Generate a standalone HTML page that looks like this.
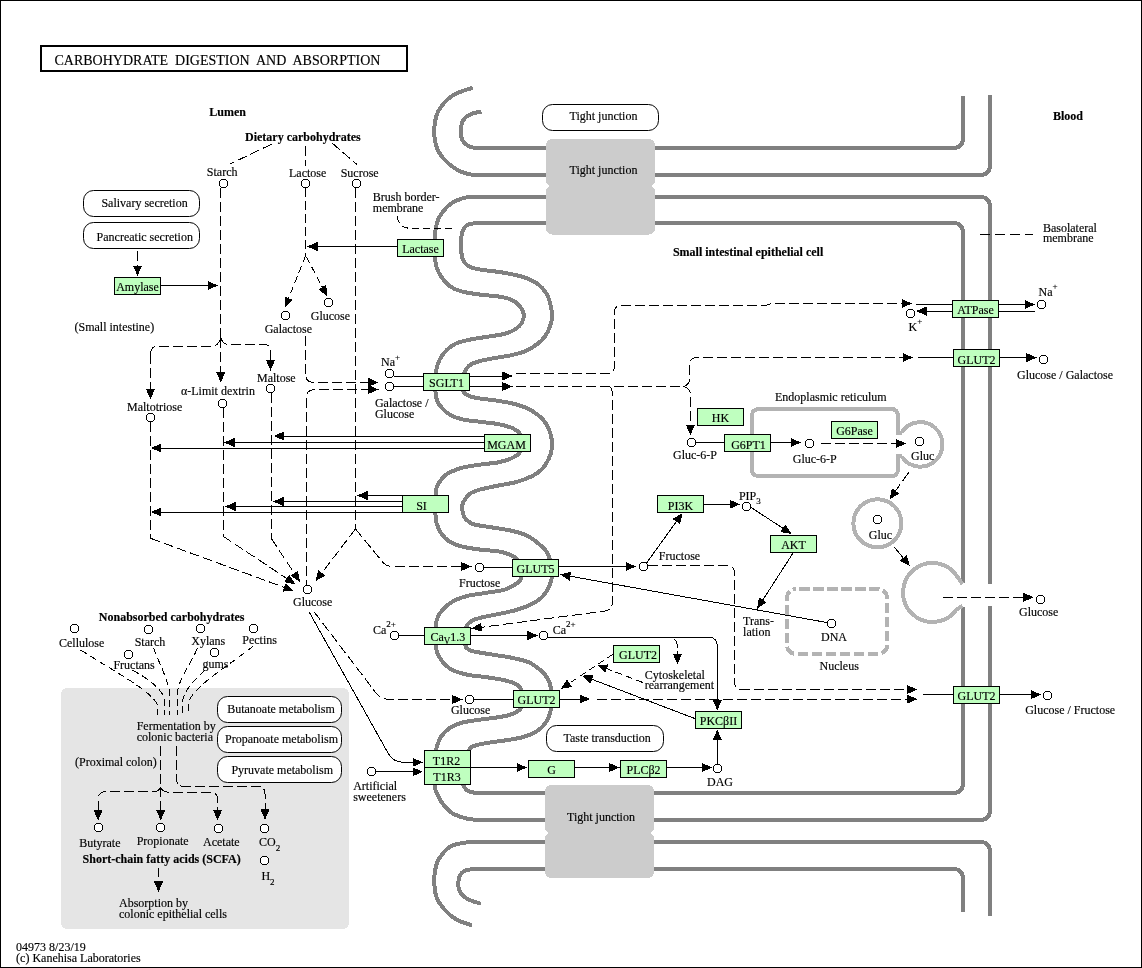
<!DOCTYPE html>
<html><head><meta charset="utf-8"><title>Carbohydrate digestion and absorption</title>
<style>html,body{margin:0;padding:0;background:#fff;}svg{display:block;will-change:transform;}text{fill:#000;stroke:#000;stroke-width:0.15px;}</style>
</head><body>
<svg width="1142" height="968" viewBox="0 0 1142 968" shape-rendering="crispEdges" font-family='"Liberation Serif", serif'>
<rect x="0.5" y="0.5" width="1141" height="967" fill="#fff" stroke="#000" stroke-width="1"/>
<rect x="61" y="688" width="288" height="241" rx="6" fill="#e5e5e5"/>
<rect x="41" y="46" width="366" height="25" fill="none" stroke="#000" stroke-width="2"/>
<path d="M472.7,88 C471.63,88.28 468.73,88.9 466.3,89.7 C463.87,90.5 460.85,91.5 458.1,92.8 C455.35,94.1 452.38,95.52 449.8,97.5 C447.22,99.48 444.58,102.28 442.6,104.7 C440.62,107.12 439.12,109.42 437.9,112 C436.68,114.58 435.9,117.28 435.3,120.2 C434.7,123.12 434.38,126.22 434.3,129.5 C434.22,132.78 434.28,136.63 434.8,139.9 C435.32,143.17 436.1,146.18 437.4,149.1 C438.7,152.02 440.53,154.82 442.6,157.4 C444.67,159.98 447.22,162.45 449.8,164.6 C452.38,166.75 455.35,168.83 458.1,170.3 C460.85,171.77 463.65,172.62 466.3,173.4 C468.95,174.18 471.72,174.73 474,175 C476.28,175.27 479,175 480,175 L980,175 Q990,175 990,165 L990,95" fill="none" stroke="#808080" stroke-width="4"/>
<path d="M481.5,112 C480.7,112.07 478.37,112.07 476.7,112.4 C475.03,112.73 473.23,113.27 471.5,114 C469.77,114.73 467.68,115.73 466.3,116.8 C464.92,117.87 464.03,118.93 463.2,120.4 C462.37,121.87 461.67,123.42 461.3,125.6 C460.93,127.78 460.85,131.15 461,133.5 C461.15,135.85 461.48,137.98 462.2,139.7 C462.92,141.42 464.1,142.67 465.3,143.8 C466.5,144.93 467.85,145.83 469.4,146.5 C470.95,147.17 472.83,147.55 474.6,147.8 C476.37,148.05 479.1,147.97 480,148 L953,148 Q963,148 963,138 L963,96" fill="none" stroke="#808080" stroke-width="4"/>
<path d="M486,197 C484.42,196.97 479.92,196.7 476.5,196.8 C473.08,196.9 468.98,196.9 465.5,197.6 C462.02,198.3 458.47,199.63 455.6,201 C452.73,202.37 450.73,203.57 448.3,205.8 C445.87,208.03 442.83,211.73 441,214.4 C439.17,217.07 438.25,218.93 437.3,221.8 C436.35,224.67 435.68,227.73 435.3,231.6 C434.92,235.47 435.05,240.93 435,245 C434.95,249.07 434.87,252.83 435,256 C435.13,259.17 435.3,261.5 435.8,264 C436.3,266.5 437.05,268.83 438,271 C438.95,273.17 439.58,274.5 441.5,277 C443.42,279.5 446.12,283.58 449.5,286 C452.88,288.42 456.68,290.07 461.8,291.5 C466.92,292.93 474.07,293.77 480.2,294.6 C486.33,295.43 493.5,295.68 498.6,296.5 C503.7,297.32 507.33,297.98 510.8,299.5 C514.27,301.02 517.25,303.15 519.4,305.6 C521.55,308.05 523.3,311.33 523.7,314.2 C524.1,317.07 523.13,320.33 521.8,322.8 C520.47,325.27 518.55,327.17 515.7,329 C512.85,330.83 509.6,332.48 504.7,333.8 C499.8,335.12 492.43,335.87 486.3,336.9 C480.17,337.93 473.02,338.87 467.9,340 C462.78,341.13 459.08,342.07 455.6,343.7 C452.12,345.33 449.43,347.57 447,349.8 C444.57,352.03 442.62,354.45 441,357.1 C439.38,359.75 438.13,363.05 437.3,365.7 C436.47,368.35 436.3,370.28 436,373 C435.7,375.72 435.6,378.98 435.5,382 C435.4,385.02 435.1,387.93 435.4,391.1 C435.7,394.27 436.17,398.13 437.3,401 C438.43,403.87 440.17,406.07 442.2,408.3 C444.23,410.53 446.23,412.57 449.5,414.4 C452.77,416.23 456.68,418.07 461.8,419.3 C466.92,420.53 474.07,420.98 480.2,421.8 C486.33,422.62 493.08,423.08 498.6,424.2 C504.12,425.32 509.63,426.78 513.3,428.5 C516.97,430.22 519.07,432.08 520.6,434.5 C522.13,436.92 522.7,439.92 522.5,443 C522.3,446.08 521.35,450.4 519.4,453 C517.45,455.6 514.27,457.05 510.8,458.6 C507.33,460.15 502.73,461.42 498.6,462.3 C494.47,463.18 490.1,463.37 486,463.9 C481.9,464.43 477.83,464.9 474,465.5 C470.17,466.1 466.27,466.68 463,467.5 C459.73,468.32 456.93,469.4 454.4,470.4 C451.87,471.4 449.63,472.37 447.8,473.5 C445.97,474.63 444.73,475.87 443.4,477.2 C442.07,478.53 440.82,480.07 439.8,481.5 C438.78,482.93 437.95,484.22 437.3,485.8 C436.65,487.38 436.22,489.13 435.9,491 C435.58,492.87 435.48,495 435.4,497 C435.32,499 435.4,500.27 435.4,503 C435.4,505.73 435.2,510.03 435.4,513.4 C435.6,516.77 435.67,519.93 436.6,523.2 C437.53,526.47 438.85,529.93 441,533 C443.15,536.07 446.03,539.35 449.5,541.6 C452.97,543.85 456.68,545.17 461.8,546.5 C466.92,547.83 474.07,548.78 480.2,549.6 C486.33,550.42 493.5,550.48 498.6,551.4 C503.7,552.32 507.53,553.67 510.8,555.1 C514.07,556.53 516.42,557.85 518.2,560 C519.98,562.15 521,564.93 521.5,568 C522,571.07 521.95,575.85 521.2,578.4 C520.45,580.95 519.75,581.43 517,583.3 C514.25,585.17 509.82,588.02 504.7,589.6 C499.58,591.18 492.43,591.77 486.3,592.8 C480.17,593.83 473.02,594.6 467.9,595.8 C462.78,597 459.07,598.38 455.6,600 C452.13,601.62 449.75,603.25 447.1,605.5 C444.45,607.75 441.45,610.95 439.7,613.5 C437.95,616.05 437.25,618.38 436.6,620.8 C435.95,623.22 435.93,625.47 435.8,628 C435.67,630.53 435.8,633.1 435.8,636 C435.8,638.9 435.55,642.62 435.8,645.4 C436.05,648.18 436.23,650.05 437.3,652.7 C438.37,655.35 439.75,658.43 442.2,661.3 C444.65,664.17 447.72,667.65 452,669.9 C456.28,672.15 462.18,673.58 467.9,674.8 C473.62,676.02 480.17,676.28 486.3,677.2 C492.43,678.12 499.58,679.07 504.7,680.3 C509.82,681.53 514.12,682.82 517,684.6 C519.88,686.38 521.08,688.6 522,691 C522.92,693.4 522.73,696.07 522.5,699 C522.27,701.93 522.55,706.02 520.6,708.6 C518.65,711.18 514.47,713.07 510.8,714.5 C507.13,715.93 503.7,716.35 498.6,717.2 C493.5,718.05 486.33,718.68 480.2,719.6 C474.07,720.52 466.92,721.27 461.8,722.7 C456.68,724.13 452.98,725.85 449.5,728.2 C446.02,730.55 442.93,733.93 440.9,736.8 C438.87,739.67 438.15,742.87 437.3,745.4 C436.45,747.93 436.13,749.9 435.8,752 C435.47,754.1 435.43,755.33 435.3,758 C435.17,760.67 435.12,764.67 435,768 C434.88,771.33 434.67,775 434.6,778 C434.53,781 434.18,783.33 434.6,786 C435.02,788.67 435.78,791.08 437.1,794 C438.42,796.92 440.03,800.35 442.5,803.5 C444.97,806.65 448.1,810.45 451.9,812.9 C455.7,815.35 460.83,817.02 465.3,818.2 C469.77,819.38 475.25,819.7 478.7,820 C482.15,820.3 484.78,820 486,820 L980,820 Q990,820 990,810 L990,606" fill="none" stroke="#808080" stroke-width="4"/>
<path d="M990,584 L990,207 Q990,197 980,197 L486,197" fill="none" stroke="#808080" stroke-width="4"/>
<path d="M478,223 C476.5,223.2 471.3,223.37 469,224.2 C466.7,225.03 465.4,226.37 464.2,228 C463,229.63 462.3,230.95 461.8,234 C461.3,237.05 461.2,242.63 461.2,246.3 C461.2,249.97 461.3,253.35 461.8,256 C462.3,258.65 462.77,260.35 464.2,262.2 C465.63,264.05 467.73,265.87 470.4,267.1 C473.07,268.33 475.5,268.8 480.2,269.6 C484.9,270.4 493.5,271.17 498.6,271.9 C503.7,272.63 506.32,273.02 510.8,274 C515.28,274.98 521,276.13 525.5,277.8 C530,279.47 534.32,281.4 537.8,284 C541.28,286.6 544.25,289.8 546.4,293.4 C548.55,297 549.78,301.52 550.7,305.6 C551.62,309.68 552.02,314.42 551.9,317.9 C551.78,321.38 551.13,323.43 550,326.5 C548.87,329.57 547.13,333.43 545.1,336.3 C543.07,339.17 541.07,341.25 537.8,343.7 C534.53,346.15 530,349.07 525.5,351 C521,352.93 516.32,354.07 510.8,355.3 C505.28,356.53 498.12,357.28 492.4,358.4 C486.68,359.52 480.38,360.78 476.5,362 C472.62,363.22 471.08,364.05 469.1,365.7 C467.12,367.35 465.58,369.35 464.6,371.9 C463.62,374.45 463.47,377.8 463.2,381 C462.93,384.2 462.02,388.6 463,391.1 C463.98,393.6 466.23,394.77 469.1,396 C471.97,397.23 475.28,397.68 480.2,398.5 C485.12,399.32 492.47,399.88 498.6,400.9 C504.73,401.92 511.48,402.97 517,404.6 C522.52,406.23 527.42,408.25 531.7,410.7 C535.98,413.15 539.85,416.23 542.7,419.3 C545.55,422.37 547.27,425.62 548.8,429.1 C550.33,432.58 551.38,436.93 551.9,440.2 C552.42,443.47 552.42,445.63 551.9,448.7 C551.38,451.77 550.33,455.32 548.8,458.6 C547.27,461.88 545.35,465.55 542.7,468.4 C540.05,471.25 537.18,473.45 532.9,475.7 C528.62,477.95 522.72,480.27 517,481.9 C511.28,483.53 504.73,484.23 498.6,485.5 C492.47,486.77 484.8,488.25 480.2,489.5 C475.6,490.75 473.37,491.58 471,493 C468.63,494.42 467.47,496 466,498 C464.53,500 462.78,502.83 462.2,505 C461.62,507.17 462.2,509.08 462.5,511 C462.8,512.92 463.17,514.88 464,516.5 C464.83,518.12 465.83,519.38 467.5,520.7 C469.17,522.02 469.85,523.27 474,524.4 C478.15,525.53 486.27,526.47 492.4,527.5 C498.53,528.53 505.07,529.27 510.8,530.6 C516.53,531.93 522.1,533.27 526.8,535.5 C531.5,537.73 535.73,541.35 539,544 C542.27,546.65 544.58,548.82 546.4,551.4 C548.22,553.98 549.05,556.73 549.9,559.5 C550.75,562.27 551.15,565.07 551.5,568 C551.85,570.93 552.45,573.93 552,577.1 C551.55,580.27 550.35,583.77 548.8,587 C547.25,590.23 545.35,593.75 542.7,596.5 C540.05,599.25 537.18,601.28 532.9,603.5 C528.62,605.72 522.72,608.05 517,609.8 C511.28,611.55 504.73,612.67 498.6,614 C492.47,615.33 484.7,616.63 480.2,617.8 C475.7,618.97 473.8,619.72 471.6,621 C469.4,622.28 468.02,623.83 467,625.5 C465.98,627.17 465.75,627.68 465.5,631 C465.25,634.32 465.1,642.4 465.5,645.4 C465.9,648.4 466.48,647.98 467.9,649 C469.32,650.02 469.92,650.57 474,651.5 C478.08,652.43 486.27,653.58 492.4,654.6 C498.53,655.62 504.67,656.28 510.8,657.6 C516.93,658.92 524.08,660.25 529.2,662.5 C534.32,664.75 538.43,668.43 541.5,671.1 C544.57,673.77 546.07,675.85 547.6,678.5 C549.13,681.15 550.08,683.75 550.7,687 C551.32,690.25 551.25,694.33 551.3,698 C551.35,701.67 551.47,705.75 551,709 C550.53,712.25 549.75,714.75 548.5,717.5 C547.25,720.25 545.67,723.08 543.5,725.5 C541.33,727.92 538.75,730.12 535.5,732 C532.25,733.88 528.12,735.53 524,736.8 C519.88,738.07 515.03,738.85 510.8,739.6 C506.57,740.35 502.82,740.7 498.6,741.3 C494.38,741.9 489.27,742.53 485.5,743.2 C481.73,743.87 478.58,744.42 476,745.3 C473.42,746.18 471.58,746.38 470,748.5 C468.42,750.62 467.42,754.75 466.5,758 C465.58,761.25 465,764.67 464.5,768 C464,771.33 463.7,775.12 463.5,778 C463.3,780.88 462.77,783.3 463.3,785.3 C463.83,787.3 465.47,788.88 466.7,790 C467.93,791.12 468.7,791.5 470.7,792 C472.7,792.5 476.15,792.83 478.7,793 C481.25,793.17 484.78,793 486,793 L953,793 Q963,793 963,783 L963,607" fill="none" stroke="#808080" stroke-width="4"/>
<path d="M963,583 L963,233 Q963,223 953,223 L478,223" fill="none" stroke="#808080" stroke-width="4"/>
<path d="M990,916 L990,852 Q990,842 980,842 L480,842" fill="none" stroke="#808080" stroke-width="4"/>
<path d="M480,842 C479.45,842 478.98,841.92 476.7,842 C474.42,842.08 469.75,842.1 466.3,842.5 C462.85,842.9 458.92,843.57 456,844.4 C453.08,845.23 451.03,845.95 448.8,847.5 C446.57,849.05 444.5,851.3 442.6,853.7 C440.7,856.1 438.7,858.8 437.4,861.9 C436.1,865 435.32,869.02 434.8,872.3 C434.28,875.58 434.22,878.17 434.3,881.6 C434.38,885.03 434.62,889.63 435.3,892.9 C435.98,896.17 437.02,898.62 438.4,901.2 C439.78,903.78 441.53,906 443.6,908.4 C445.67,910.8 448.22,913.53 450.8,915.6 C453.38,917.67 456.52,919.5 459.1,920.8 C461.68,922.1 464.15,922.62 466.3,923.4 C468.45,924.18 471.05,925.15 472,925.5" fill="none" stroke="#808080" stroke-width="4"/>
<path d="M963,912 L963,879 Q963,869 953,869 L480,869" fill="none" stroke="#808080" stroke-width="4"/>
<path d="M480,869 C479.45,869 478.63,868.88 476.7,869 C474.77,869.12 470.47,869.33 468.4,869.7 C466.33,870.07 465.6,870.43 464.3,871.2 C463,871.97 461.55,872.92 460.6,874.3 C459.65,875.68 458.93,877.25 458.6,879.5 C458.27,881.75 458.27,885.57 458.6,887.8 C458.93,890.03 459.65,891.37 460.6,892.9 C461.55,894.43 462.48,895.7 464.3,897 C466.12,898.3 468.72,899.57 471.5,900.7 C474.28,901.83 479.42,903.28 481,903.8" fill="none" stroke="#808080" stroke-width="4"/>
<rect x="546" y="139" width="109" height="47.5" rx="6" fill="#cccccc"/>
<rect x="546" y="185.5" width="109" height="49" rx="6" fill="#cccccc"/>
<rect x="545" y="785" width="109" height="48.5" rx="6" fill="#cccccc"/>
<rect x="545" y="832.5" width="109" height="45.5" rx="6" fill="#cccccc"/>
<rect x="542.5" y="104.5" width="116" height="26" rx="10" fill="#fff" stroke="#000" stroke-width="1" shape-rendering="auto"/>
<path d="M902,432.5 L898,432.5 L898,416 Q898,409 891,409 L759,409 Q752,409 752,416 L752,469 Q752,476 759,476 L891,476 Q898,476 898,469 L898,456 L902,456" fill="none" stroke="#b3b3b3" stroke-width="4"/>
<path d="M901.68,432.31 A22.2,22.2 0 1 1 901.68,456.49" fill="none" stroke="#b3b3b3" stroke-width="4"/>
<circle cx="877.4" cy="523.3" r="24" fill="none" stroke="#b3b3b3" stroke-width="4"/>
<path d="M962.5,584 L958.1,577.8 A29.5,29.5 0 1 0 956.66,609.42 L962.5,606" fill="none" stroke="#b3b3b3" stroke-width="4"/>
<rect x="787" y="589" width="100" height="65" rx="9" fill="none" stroke="#b3b3b3" stroke-width="4" stroke-dasharray="10.5,3.5" stroke-dashoffset="-3"/>
<path d="M272,144 L229.6,164.2" fill="none" stroke="#000" stroke-width="1" stroke-dasharray="10,4"/>
<path d="M305.5,146 L305.5,166" fill="none" stroke="#000" stroke-width="1" stroke-dasharray="10,4"/>
<path d="M332,143 L357,164.5" fill="none" stroke="#000" stroke-width="1" stroke-dasharray="10,4"/>
<rect x="83.5" y="190.5" width="116" height="26" rx="10" fill="#fff" stroke="#000" stroke-width="1" shape-rendering="auto"/>
<rect x="83.5" y="222.5" width="116" height="26" rx="10" fill="#fff" stroke="#000" stroke-width="1" shape-rendering="auto"/>
<path d="M137.5,251 L137.5,266.5" fill="none" stroke="#000" stroke-width="1" stroke-dasharray="10,4"/>
<path d="M137.5,276 L133,265.5 L142,265.5 Z" fill="#000"/>
<rect x="114.5" y="277.5" width="46" height="17" fill="#bfffbf" stroke="#000" stroke-width="1"/>
<path d="M161,285.5 L208.5,285.5" fill="none" stroke="#000" stroke-width="1"/>
<path d="M218,285.5 L207.5,290 L207.5,281 Z" fill="#000"/>
<path d="M397.3,216 Q398.5,228 410,228.3 L452,228.3" fill="none" stroke="#000" stroke-width="1" stroke-dasharray="7,4"/>
<rect x="397.5" y="239.5" width="46" height="17" fill="#bfffbf" stroke="#000" stroke-width="1"/>
<path d="M397,246.5 L316.5,246.5" fill="none" stroke="#000" stroke-width="1"/>
<path d="M307,246.5 L317.5,242 L317.5,251 Z" fill="#000"/>
<path d="M220.5,188 L220.5,337" fill="none" stroke="#000" stroke-width="1" stroke-dasharray="10,4"/>
<path d="M220.8,337.5 Q219,344.3 214,346.3 L158,346.3 Q150.5,346.3 150.5,354" fill="none" stroke="#000" stroke-width="1" stroke-dasharray="10,4"/>
<path d="M150.5,354 L150.5,390" fill="none" stroke="#000" stroke-width="1" stroke-dasharray="10,4"/>
<path d="M150.5,399.5 L146,389 L155,389 Z" fill="#000"/>
<path d="M220.8,337.5 Q222.5,344.3 228,344.3 L264,344.3 Q270.5,344.3 270.5,351" fill="none" stroke="#000" stroke-width="1" stroke-dasharray="10,4"/>
<path d="M270.5,351 L270.5,361.3" fill="none" stroke="#000" stroke-width="1" stroke-dasharray="10,4"/>
<path d="M270.5,370.8 L266,360.3 L275,360.3 Z" fill="#000"/>
<path d="M220.8,338 L220.8,373.3" fill="none" stroke="#000" stroke-width="1" stroke-dasharray="10,4"/>
<path d="M220.8,382.8 L216.3,372.3 L225.3,372.3 Z" fill="#000"/>
<path d="M305.5,188 L305.5,256" fill="none" stroke="#000" stroke-width="1" stroke-dasharray="9,4"/>
<path d="M305.5,256 L288.31,299.17" fill="none" stroke="#000" stroke-width="1" stroke-dasharray="7,4"/>
<path d="M284.8,308 L284.5,296.58 L292.86,299.91 Z" fill="#000"/>
<path d="M306.5,257 L322.78,287.99" fill="none" stroke="#000" stroke-width="1" stroke-dasharray="7,4"/>
<path d="M327.2,296.4 L318.33,289.2 L326.3,285.01 Z" fill="#000"/>
<path d="M355.5,188 L355.5,529" fill="none" stroke="#000" stroke-width="1" stroke-dasharray="10,4"/>
<path d="M305.5,335.5 L305.5,374 Q305.5,382.4 314,382.4 L369.5,382.4" fill="none" stroke="#000" stroke-width="1" stroke-dasharray="10,4"/>
<path d="M378.6,382.4 L368.1,386.9 L368.1,377.9 Z" fill="#000"/>
<path d="M306.5,590 L306.5,397 Q306.5,389.5 316,389.5 L369.5,389.5" fill="none" stroke="#000" stroke-width="1" stroke-dasharray="10,4"/>
<path d="M378.6,389.5 L368.1,394 L368.1,385 Z" fill="#000"/>
<path d="M393.5,376.5 L424,376.5" fill="none" stroke="#000" stroke-width="1"/>
<path d="M393.5,386.5 L424,386.5" fill="none" stroke="#000" stroke-width="1"/>
<rect x="423.5" y="373.5" width="46" height="17" fill="#bfffbf" stroke="#000" stroke-width="1"/>
<path d="M470,376 L503.3,376" fill="none" stroke="#000" stroke-width="1"/>
<path d="M512.8,376 L502.3,380.5 L502.3,371.5 Z" fill="#000"/>
<path d="M470,386.5 L503.3,386.5" fill="none" stroke="#000" stroke-width="1"/>
<path d="M512.8,386.5 L502.3,391 L502.3,382 Z" fill="#000"/>
<path d="M515.5,373.2 L608,373.2 Q614.4,373.2 614.4,366 L614.4,312 Q614.4,305 622,305 L767,305 L771,303.5 L903,303.5" fill="none" stroke="#000" stroke-width="1" stroke-dasharray="10,4"/>
<path d="M912,303.5 L901.5,308 L901.5,299 Z" fill="#000"/>
<path d="M515.5,386.5 L683.3,386.5 Q689.6,385 689.6,378 L689.6,366 Q689.6,357.5 697,357.5 L904,357.5" fill="none" stroke="#000" stroke-width="1" stroke-dasharray="10,4"/>
<path d="M913,357.5 L902.5,362 L902.5,353 Z" fill="#000"/>
<path d="M683.3,386.5 Q690.4,388 690.4,395 L690.4,426" fill="none" stroke="#000" stroke-width="1" stroke-dasharray="10,4"/>
<path d="M690.4,435.4 L685.9,424.9 L694.9,424.9 Z" fill="#000"/>
<path d="M609.7,386.5 Q612.3,388 612.3,395 L612.3,603 Q612.3,609.5 605,611 L481.5,627.3" fill="none" stroke="#000" stroke-width="1" stroke-dasharray="10,4"/>
<path d="M471.3,628.5 L481.13,622.68 L482.3,631.6 Z" fill="#000"/>
<rect x="484.5" y="434.5" width="46" height="17" fill="#bfffbf" stroke="#000" stroke-width="1"/>
<path d="M484,436 L283.1,436" fill="none" stroke="#000" stroke-width="1"/>
<path d="M273.6,436 L284.1,431.5 L284.1,440.5 Z" fill="#000"/>
<path d="M484,442.5 L233.5,442.5" fill="none" stroke="#000" stroke-width="1"/>
<path d="M224,442.5 L234.5,438 L234.5,447 Z" fill="#000"/>
<path d="M484,448 L160.3,448" fill="none" stroke="#000" stroke-width="1"/>
<path d="M150.8,448 L161.3,443.5 L161.3,452.5 Z" fill="#000"/>
<rect x="402.5" y="495.5" width="46" height="17" fill="#bfffbf" stroke="#000" stroke-width="1"/>
<path d="M402,495.5 L366.5,495.5" fill="none" stroke="#000" stroke-width="1"/>
<path d="M357,495.5 L367.5,491 L367.5,500 Z" fill="#000"/>
<path d="M402,501.5 L282.5,501.5" fill="none" stroke="#000" stroke-width="1"/>
<path d="M273,501.5 L283.5,497 L283.5,506 Z" fill="#000"/>
<path d="M402,506.5 L234.5,506.5" fill="none" stroke="#000" stroke-width="1"/>
<path d="M225,506.5 L235.5,502 L235.5,511 Z" fill="#000"/>
<path d="M402,512 L160.3,512" fill="none" stroke="#000" stroke-width="1"/>
<path d="M150.8,512 L161.3,507.5 L161.3,516.5 Z" fill="#000"/>
<path d="M150.5,422 L150.5,538.3" fill="none" stroke="#000" stroke-width="1" stroke-dasharray="10,4"/>
<path d="M150.5,538.3 L285.08,587.73" fill="none" stroke="#000" stroke-width="1" stroke-dasharray="10,4"/>
<path d="M294,591 L282.59,591.6 L285.69,583.16 Z" fill="#000"/>
<path d="M223,408 L223,536.2" fill="none" stroke="#000" stroke-width="1" stroke-dasharray="10,4"/>
<path d="M223,536.2 L287.58,579.05" fill="none" stroke="#000" stroke-width="1" stroke-dasharray="10,4"/>
<path d="M295.5,584.3 L284.26,582.24 L289.24,574.75 Z" fill="#000"/>
<path d="M271.2,393 L271.2,538.3" fill="none" stroke="#000" stroke-width="1" stroke-dasharray="10,4"/>
<path d="M271.2,538.3 L294.77,574.07" fill="none" stroke="#000" stroke-width="1" stroke-dasharray="10,4"/>
<path d="M300,582 L290.46,575.71 L297.98,570.76 Z" fill="#000"/>
<path d="M355.5,529 L321.19,573.67" fill="none" stroke="#000" stroke-width="1" stroke-dasharray="10,4"/>
<path d="M315.4,581.2 L318.23,570.13 L325.37,575.61 Z" fill="#000"/>
<path d="M355.5,529 L381,560 Q385,566.5 393,566.5 L462.5,566.5" fill="none" stroke="#000" stroke-width="1" stroke-dasharray="10,4"/>
<path d="M471.7,566.5 L461.2,571 L461.2,562 Z" fill="#000"/>
<path d="M483.5,567 L513,567" fill="none" stroke="#000" stroke-width="1"/>
<rect x="512.5" y="559.5" width="46" height="17" fill="#bfffbf" stroke="#000" stroke-width="1"/>
<path d="M309.3,612.3 L387.7,752.5 Q393,762.3 403,762.3 L414,762.3" fill="none" stroke="#000" stroke-width="1"/>
<path d="M423,762.3 L412.5,766.8 L412.5,757.8 Z" fill="#000"/>
<path d="M313.9,611.6 L373,689 Q379,699.5 390,699.5 L453.7,699.5" fill="none" stroke="#000" stroke-width="1" stroke-dasharray="10,4"/>
<path d="M462.7,699.5 L452.2,704 L452.2,695 Z" fill="#000"/>
<path d="M473.5,699.5 L513.5,699.5" fill="none" stroke="#000" stroke-width="1"/>
<rect x="513.5" y="690.5" width="46" height="17" fill="#bfffbf" stroke="#000" stroke-width="1"/>
<path d="M398.5,635.5 L424.5,635.5" fill="none" stroke="#000" stroke-width="1"/>
<rect x="424.5" y="627.5" width="46" height="17" fill="#bfffbf" stroke="#000"/>
<path d="M471,635.5 L528.4,635.5" fill="none" stroke="#000" stroke-width="1"/>
<path d="M537.9,635.5 L527.4,640 L527.4,631 Z" fill="#000"/>
<path d="M547.3,637.2 L709.3,637.2 A8,8 0 0 1 717.3,645.2 L717.3,700" fill="none" stroke="#000" stroke-width="1"/>
<path d="M717.3,710.5 L712.8,700 L721.8,700 Z" fill="#000"/>
<path d="M674,639.5 Q677.5,640.5 677.5,648 L677.5,656" fill="none" stroke="#000" stroke-width="1" stroke-dasharray="9.5,3.5"/>
<path d="M677.5,664.5 L673,654 L682,654 Z" fill="#000"/>
<path d="M375.5,771.8 L413.5,771.8" fill="none" stroke="#000" stroke-width="1"/>
<path d="M423,771.8 L412.5,776.3 L412.5,767.3 Z" fill="#000"/>
<rect x="424.5" y="750.5" width="46" height="17" fill="#bfffbf" stroke="#000"/>
<rect x="424.5" y="767.5" width="46" height="17" fill="#bfffbf" stroke="#000"/>
<path d="M471,767.5 L517.5,767.5" fill="none" stroke="#000" stroke-width="1"/>
<path d="M527,767.5 L516.5,772 L516.5,763 Z" fill="#000"/>
<rect x="528.5" y="760.5" width="46" height="17" fill="#bfffbf" stroke="#000" stroke-width="1"/>
<path d="M575,767.5 L610.3,767.5" fill="none" stroke="#000" stroke-width="1"/>
<path d="M619.8,767.5 L609.3,772 L609.3,763 Z" fill="#000"/>
<rect x="620.5" y="760.5" width="46" height="17" fill="#bfffbf" stroke="#000" stroke-width="1"/>
<path d="M667,767.5 L703,767.5" fill="none" stroke="#000" stroke-width="1"/>
<path d="M712.5,767.5 L702,772 L702,763 Z" fill="#000"/>
<path d="M717.3,764 L717.3,738.9" fill="none" stroke="#000" stroke-width="1"/>
<path d="M717.3,729.4 L721.8,739.9 L712.8,739.9 Z" fill="#000"/>
<rect x="695.5" y="711.5" width="46" height="17" fill="#bfffbf" stroke="#000" stroke-width="1"/>
<rect x="546.5" y="725.5" width="117" height="26" rx="10" fill="#fff" stroke="#000" stroke-width="1" shape-rendering="auto"/>
<rect x="613.5" y="645.5" width="46" height="17" fill="#bfffbf" stroke="#000" stroke-width="1"/>
<path d="M613,654.2 L568.61,683.74" fill="none" stroke="#000" stroke-width="1" stroke-dasharray="7,4"/>
<path d="M560.7,689 L566.95,679.44 L571.93,686.93 Z" fill="#000"/>
<path d="M642.6,682.4 L605.87,668.3" fill="none" stroke="#000" stroke-width="1" stroke-dasharray="7,4"/>
<path d="M597,664.9 L608.42,664.46 L605.19,672.86 Z" fill="#000"/>
<path d="M695,718.6 L591.08,678.98" fill="none" stroke="#000" stroke-width="1"/>
<path d="M582.2,675.6 L593.61,675.14 L590.41,683.54 Z" fill="#000"/>
<path d="M560,699 L580.8,699" fill="none" stroke="#000" stroke-width="1"/>
<path d="M590.3,699 L579.8,703.5 L579.8,694.5 Z" fill="#000"/>
<path d="M597,699.2 L908,699.2" fill="none" stroke="#000" stroke-width="1" stroke-dasharray="10,4"/>
<path d="M917.5,699.2 L907,703.7 L907,694.7 Z" fill="#000"/>
<path d="M559,566.5 L626.5,566.5" fill="none" stroke="#000" stroke-width="1"/>
<path d="M636,566.5 L625.5,571 L625.5,562 Z" fill="#000"/>
<path d="M647.5,565.5 L727,565.5 Q734.5,565.5 734.5,573 L734.5,682 Q734.5,689.6 742,689.6 L908,689.6" fill="none" stroke="#000" stroke-width="1" stroke-dasharray="10,4"/>
<path d="M917.5,689.6 L907,694.1 L907,685.1 Z" fill="#000"/>
<path d="M831.2,623.3 L569,576" fill="none" stroke="#000" stroke-width="1"/>
<path d="M560,574.4 L571.13,571.83 L569.53,580.69 Z" fill="#000"/>
<path d="M792.7,553.6 L762.25,600.82" fill="none" stroke="#000" stroke-width="1"/>
<path d="M757.1,608.8 L759.01,597.54 L766.57,602.41 Z" fill="#000"/>
<path d="M646.7,562.8 L676.95,520.81" fill="none" stroke="#000" stroke-width="1"/>
<path d="M682.5,513.1 L680.01,524.25 L672.71,518.99 Z" fill="#000"/>
<rect x="657.5" y="495.5" width="46" height="17" fill="#bfffbf" stroke="#000" stroke-width="1"/>
<path d="M704,504.3 L730.6,504.3" fill="none" stroke="#000" stroke-width="1"/>
<path d="M740.1,504.3 L729.6,508.8 L729.6,499.8 Z" fill="#000"/>
<path d="M751.2,507.5 L783.66,528.79" fill="none" stroke="#000" stroke-width="1"/>
<path d="M791.6,534 L780.35,532 L785.29,524.48 Z" fill="#000"/>
<rect x="770.5" y="535.5" width="46" height="17" fill="#bfffbf" stroke="#000" stroke-width="1"/>
<rect x="697.5" y="408.5" width="46" height="17" fill="#bfffbf" stroke="#000" stroke-width="1"/>
<path d="M695.5,442.5 L725,442.5" fill="none" stroke="#000" stroke-width="1"/>
<rect x="724.5" y="434.5" width="46" height="17" fill="#bfffbf" stroke="#000" stroke-width="1"/>
<path d="M771,442.5 L791.5,442.5" fill="none" stroke="#000" stroke-width="1"/>
<path d="M801,442.5 L790.5,447 L790.5,438 Z" fill="#000"/>
<rect x="831.5" y="421.5" width="46" height="17" fill="#bfffbf" stroke="#000" stroke-width="1"/>
<path d="M821,443.5 L897,443.5" fill="none" stroke="#000" stroke-width="1" stroke-dasharray="10,4"/>
<path d="M906.5,443.5 L896,448 L896,439 Z" fill="#000"/>
<path d="M908.7,472.4 L894.99,491.75" fill="none" stroke="#000" stroke-width="1" stroke-dasharray="11,4"/>
<path d="M889.5,499.5 L891.9,488.33 L899.24,493.53 Z" fill="#000"/>
<path d="M894.2,547.1 L903.83,558.69" fill="none" stroke="#000" stroke-width="1"/>
<path d="M909.9,566 L899.73,560.8 L906.65,555.05 Z" fill="#000"/>
<path d="M942.8,597.3 L1024.8,597.3" fill="none" stroke="#000" stroke-width="1" stroke-dasharray="10,4"/>
<path d="M1033.8,597.3 L1023.3,601.8 L1023.3,592.8 Z" fill="#000"/>
<path d="M980.2,234.4 L1032.9,234.4" fill="none" stroke="#000" stroke-width="1" stroke-dasharray="10,5"/>
<rect x="952.5" y="300.5" width="46" height="17" fill="#bfffbf" stroke="#000" stroke-width="1"/>
<path d="M916,304.5 L952.5,304.5" fill="none" stroke="#000" stroke-width="1"/>
<path d="M952.5,311.1 L925.5,311.1" fill="none" stroke="#000" stroke-width="1"/>
<path d="M916,311.1 L926.5,306.6 L926.5,315.6 Z" fill="#000"/>
<path d="M999,304.5 L1025.5,304.5" fill="none" stroke="#000" stroke-width="1"/>
<path d="M1035,304.5 L1024.5,309 L1024.5,300 Z" fill="#000"/>
<path d="M999,311.1 L1035,311.1" fill="none" stroke="#000" stroke-width="1"/>
<rect x="953.5" y="349.5" width="46" height="17" fill="#bfffbf" stroke="#000" stroke-width="1"/>
<path d="M918.2,357.6 L953.5,357.6" fill="none" stroke="#000" stroke-width="1"/>
<path d="M1000,357.6 L1027.3,357.6" fill="none" stroke="#000" stroke-width="1"/>
<path d="M1036.8,357.6 L1026.3,362.1 L1026.3,353.1 Z" fill="#000"/>
<rect x="953.5" y="686.5" width="46" height="17" fill="#bfffbf" stroke="#000" stroke-width="1"/>
<path d="M922.9,694.6 L953.5,694.6" fill="none" stroke="#000" stroke-width="1"/>
<path d="M1000,694.6 L1031.9,694.6" fill="none" stroke="#000" stroke-width="1"/>
<path d="M1041.4,694.6 L1030.9,699.1 L1030.9,690.1 Z" fill="#000"/>
<path d="M80.6,650 C120,675 150,690 157.7,705 L157.7,715" fill="none" stroke="#000" stroke-width="1" stroke-dasharray="7,4"/>
<path d="M132.5,670 C150,680 163,690 164.7,700 L164.7,715" fill="none" stroke="#000" stroke-width="1" stroke-dasharray="7,4"/>
<path d="M153.5,648 C160,665 168,680 169.4,692 L169.4,715" fill="none" stroke="#000" stroke-width="1" stroke-dasharray="7,4"/>
<path d="M197.5,648.2 C190,665 178,680 177.3,694 L177.3,715" fill="none" stroke="#000" stroke-width="1" stroke-dasharray="7,4"/>
<path d="M205.3,670 C195,680 184,690 182.9,700 L182.9,715" fill="none" stroke="#000" stroke-width="1" stroke-dasharray="7,4"/>
<path d="M253,646.2 C230,665 195,685 188.5,702 L188.5,715" fill="none" stroke="#000" stroke-width="1" stroke-dasharray="7,4"/>
<rect x="217.5" y="696.5" width="124" height="26" rx="10" fill="#fff" stroke="#000" stroke-width="1" shape-rendering="auto"/>
<rect x="217.5" y="726.5" width="124" height="26" rx="10" fill="#fff" stroke="#000" stroke-width="1" shape-rendering="auto"/>
<rect x="217.5" y="756.5" width="124" height="26" rx="10" fill="#fff" stroke="#000" stroke-width="1" shape-rendering="auto"/>
<path d="M160.7,745.5 L160.7,787" fill="none" stroke="#000" stroke-width="1" stroke-dasharray="10,4"/>
<path d="M160.7,787 L160.7,811.1" fill="none" stroke="#000" stroke-width="1" stroke-dasharray="10,4"/>
<path d="M160.7,820.6 L156.2,810.1 L165.2,810.1 Z" fill="#000"/>
<path d="M160.7,787.3 Q158.5,791.7 154,791.7 L106,791.7 Q98.1,791.7 98.1,799.5 L98.1,811.6" fill="none" stroke="#000" stroke-width="1" stroke-dasharray="10,4"/>
<path d="M98.1,820.6 L93.6,810.1 L102.6,810.1 Z" fill="#000"/>
<path d="M160.7,787.3 Q163,792.2 168,792.2 L210,792.2 Q217.6,792.2 217.6,800 L217.6,811.6" fill="none" stroke="#000" stroke-width="1" stroke-dasharray="10,4"/>
<path d="M217.6,820.6 L213.1,810.1 L222.1,810.1 Z" fill="#000"/>
<path d="M176.4,745.5 L176.4,779 Q176.4,786.4 184,786.4 L258,786.4 Q265,786.4 265,794 L265,810.7" fill="none" stroke="#000" stroke-width="1" stroke-dasharray="10,4"/>
<path d="M265,819.7 L260.5,809.2 L269.5,809.2 Z" fill="#000"/>
<path d="M158.5,868 L158.5,882.4" fill="none" stroke="#000" stroke-width="1" stroke-dasharray="9,4"/>
<path d="M158.5,891.9 L154,881.4 L163,881.4 Z" fill="#000"/>
<path d="M283,312h5v1h-5zM282,313h7v5h-7zM283,318h5v1h-5z" fill="#fff"/>
<path d="M283,311h5v1h-5zM283,319h5v1h-5zM281,313h1v5h-1zM289,313h1v5h-1zM282,312h1v1h-1zM288,312h1v1h-1zM282,318h1v1h-1zM288,318h1v1h-1z" fill="#000"/>
<path d="M326,299h5v1h-5zM325,300h7v5h-7zM326,305h5v1h-5z" fill="#fff"/>
<path d="M326,298h5v1h-5zM326,306h5v1h-5zM324,300h1v5h-1zM332,300h1v5h-1zM325,299h1v1h-1zM331,299h1v1h-1zM325,305h1v1h-1zM331,305h1v1h-1z" fill="#000"/>
<path d="M268,385h5v1h-5zM267,386h7v5h-7zM268,391h5v1h-5z" fill="#fff"/>
<path d="M268,384h5v1h-5zM268,392h5v1h-5zM266,386h1v5h-1zM274,386h1v5h-1zM267,385h1v1h-1zM273,385h1v1h-1zM267,391h1v1h-1zM273,391h1v1h-1z" fill="#000"/>
<path d="M220,400h5v1h-5zM219,401h7v5h-7zM220,406h5v1h-5z" fill="#fff"/>
<path d="M220,399h5v1h-5zM220,407h5v1h-5zM218,401h1v5h-1zM226,401h1v5h-1zM219,400h1v1h-1zM225,400h1v1h-1zM219,406h1v1h-1zM225,406h1v1h-1z" fill="#000"/>
<path d="M148,414h5v1h-5zM147,415h7v5h-7zM148,420h5v1h-5z" fill="#fff"/>
<path d="M148,413h5v1h-5zM148,421h5v1h-5zM146,415h1v5h-1zM154,415h1v5h-1zM147,414h1v1h-1zM153,414h1v1h-1zM147,420h1v1h-1zM153,420h1v1h-1z" fill="#000"/>
<path d="M221,180h5v1h-5zM220,181h7v5h-7zM221,186h5v1h-5z" fill="#fff"/>
<path d="M221,179h5v1h-5zM221,187h5v1h-5zM219,181h1v5h-1zM227,181h1v5h-1zM220,180h1v1h-1zM226,180h1v1h-1zM220,186h1v1h-1zM226,186h1v1h-1z" fill="#000"/>
<path d="M303,180h5v1h-5zM302,181h7v5h-7zM303,186h5v1h-5z" fill="#fff"/>
<path d="M303,179h5v1h-5zM303,187h5v1h-5zM301,181h1v5h-1zM309,181h1v5h-1zM302,180h1v1h-1zM308,180h1v1h-1zM302,186h1v1h-1zM308,186h1v1h-1z" fill="#000"/>
<path d="M354,180h5v1h-5zM353,181h7v5h-7zM354,186h5v1h-5z" fill="#fff"/>
<path d="M354,179h5v1h-5zM354,187h5v1h-5zM352,181h1v5h-1zM360,181h1v5h-1zM353,180h1v1h-1zM359,180h1v1h-1zM353,186h1v1h-1zM359,186h1v1h-1z" fill="#000"/>
<path d="M387,370h5v1h-5zM386,371h7v5h-7zM387,376h5v1h-5z" fill="#fff"/>
<path d="M387,369h5v1h-5zM387,377h5v1h-5zM385,371h1v5h-1zM393,371h1v5h-1zM386,370h1v1h-1zM392,370h1v1h-1zM386,376h1v1h-1zM392,376h1v1h-1z" fill="#000"/>
<path d="M387,383h5v1h-5zM386,384h7v5h-7zM387,389h5v1h-5z" fill="#fff"/>
<path d="M387,382h5v1h-5zM387,390h5v1h-5zM385,384h1v5h-1zM393,384h1v5h-1zM386,383h1v1h-1zM392,383h1v1h-1zM386,389h1v1h-1zM392,389h1v1h-1z" fill="#000"/>
<path d="M305,586h5v1h-5zM304,587h7v5h-7zM305,592h5v1h-5z" fill="#fff"/>
<path d="M305,585h5v1h-5zM305,593h5v1h-5zM303,587h1v5h-1zM311,587h1v5h-1zM304,586h1v1h-1zM310,586h1v1h-1zM304,592h1v1h-1zM310,592h1v1h-1z" fill="#000"/>
<path d="M477,564h5v1h-5zM476,565h7v5h-7zM477,570h5v1h-5z" fill="#fff"/>
<path d="M477,563h5v1h-5zM477,571h5v1h-5zM475,565h1v5h-1zM483,565h1v5h-1zM476,564h1v1h-1zM482,564h1v1h-1zM476,570h1v1h-1zM482,570h1v1h-1z" fill="#000"/>
<path d="M467,696h5v1h-5zM466,697h7v5h-7zM467,702h5v1h-5z" fill="#fff"/>
<path d="M467,695h5v1h-5zM467,703h5v1h-5zM465,697h1v5h-1zM473,697h1v5h-1zM466,696h1v1h-1zM472,696h1v1h-1zM466,702h1v1h-1zM472,702h1v1h-1z" fill="#000"/>
<path d="M392,632h5v1h-5zM391,633h7v5h-7zM392,638h5v1h-5z" fill="#fff"/>
<path d="M392,631h5v1h-5zM392,639h5v1h-5zM390,633h1v5h-1zM398,633h1v5h-1zM391,632h1v1h-1zM397,632h1v1h-1zM391,638h1v1h-1zM397,638h1v1h-1z" fill="#000"/>
<path d="M541,632h5v1h-5zM540,633h7v5h-7zM541,638h5v1h-5z" fill="#fff"/>
<path d="M541,631h5v1h-5zM541,639h5v1h-5zM539,633h1v5h-1zM547,633h1v5h-1zM540,632h1v1h-1zM546,632h1v1h-1zM540,638h1v1h-1zM546,638h1v1h-1z" fill="#000"/>
<path d="M369,768h5v1h-5zM368,769h7v5h-7zM369,774h5v1h-5z" fill="#fff"/>
<path d="M369,767h5v1h-5zM369,775h5v1h-5zM367,769h1v5h-1zM375,769h1v5h-1zM368,768h1v1h-1zM374,768h1v1h-1zM368,774h1v1h-1zM374,774h1v1h-1z" fill="#000"/>
<path d="M715,765h5v1h-5zM714,766h7v5h-7zM715,771h5v1h-5z" fill="#fff"/>
<path d="M715,764h5v1h-5zM715,772h5v1h-5zM713,766h1v5h-1zM721,766h1v5h-1zM714,765h1v1h-1zM720,765h1v1h-1zM714,771h1v1h-1zM720,771h1v1h-1z" fill="#000"/>
<path d="M641,563h5v1h-5zM640,564h7v5h-7zM641,569h5v1h-5z" fill="#fff"/>
<path d="M641,562h5v1h-5zM641,570h5v1h-5zM639,564h1v5h-1zM647,564h1v5h-1zM640,563h1v1h-1zM646,563h1v1h-1zM640,569h1v1h-1zM646,569h1v1h-1z" fill="#000"/>
<path d="M829,620h5v1h-5zM828,621h7v5h-7zM829,626h5v1h-5z" fill="#fff"/>
<path d="M829,619h5v1h-5zM829,627h5v1h-5zM827,621h1v5h-1zM835,621h1v5h-1zM828,620h1v1h-1zM834,620h1v1h-1zM828,626h1v1h-1zM834,626h1v1h-1z" fill="#000"/>
<path d="M744,503h5v1h-5zM743,504h7v5h-7zM744,509h5v1h-5z" fill="#fff"/>
<path d="M744,502h5v1h-5zM744,510h5v1h-5zM742,504h1v5h-1zM750,504h1v5h-1zM743,503h1v1h-1zM749,503h1v1h-1zM743,509h1v1h-1zM749,509h1v1h-1z" fill="#000"/>
<path d="M689,439h5v1h-5zM688,440h7v5h-7zM689,445h5v1h-5z" fill="#fff"/>
<path d="M689,438h5v1h-5zM689,446h5v1h-5zM687,440h1v5h-1zM695,440h1v5h-1zM688,439h1v1h-1zM694,439h1v1h-1zM688,445h1v1h-1zM694,445h1v1h-1z" fill="#000"/>
<path d="M807,440h5v1h-5zM806,441h7v5h-7zM807,446h5v1h-5z" fill="#fff"/>
<path d="M807,439h5v1h-5zM807,447h5v1h-5zM805,441h1v5h-1zM813,441h1v5h-1zM806,440h1v1h-1zM812,440h1v1h-1zM806,446h1v1h-1zM812,446h1v1h-1z" fill="#000"/>
<path d="M917,438h5v1h-5zM916,439h7v5h-7zM917,444h5v1h-5z" fill="#fff"/>
<path d="M917,437h5v1h-5zM917,445h5v1h-5zM915,439h1v5h-1zM923,439h1v5h-1zM916,438h1v1h-1zM922,438h1v1h-1zM916,444h1v1h-1zM922,444h1v1h-1z" fill="#000"/>
<path d="M875,516h5v1h-5zM874,517h7v5h-7zM875,522h5v1h-5z" fill="#fff"/>
<path d="M875,515h5v1h-5zM875,523h5v1h-5zM873,517h1v5h-1zM881,517h1v5h-1zM874,516h1v1h-1zM880,516h1v1h-1zM874,522h1v1h-1zM880,522h1v1h-1z" fill="#000"/>
<path d="M1038,596h5v1h-5zM1037,597h7v5h-7zM1038,602h5v1h-5z" fill="#fff"/>
<path d="M1038,595h5v1h-5zM1038,603h5v1h-5zM1036,597h1v5h-1zM1044,597h1v5h-1zM1037,596h1v1h-1zM1043,596h1v1h-1zM1037,602h1v1h-1zM1043,602h1v1h-1z" fill="#000"/>
<path d="M908,310h5v1h-5zM907,311h7v5h-7zM908,316h5v1h-5z" fill="#fff"/>
<path d="M908,309h5v1h-5zM908,317h5v1h-5zM906,311h1v5h-1zM914,311h1v5h-1zM907,310h1v1h-1zM913,310h1v1h-1zM907,316h1v1h-1zM913,316h1v1h-1z" fill="#000"/>
<path d="M1039,301h5v1h-5zM1038,302h7v5h-7zM1039,307h5v1h-5z" fill="#fff"/>
<path d="M1039,300h5v1h-5zM1039,308h5v1h-5zM1037,302h1v5h-1zM1045,302h1v5h-1zM1038,301h1v1h-1zM1044,301h1v1h-1zM1038,307h1v1h-1zM1044,307h1v1h-1z" fill="#000"/>
<path d="M1041,356h5v1h-5zM1040,357h7v5h-7zM1041,362h5v1h-5z" fill="#fff"/>
<path d="M1041,355h5v1h-5zM1041,363h5v1h-5zM1039,357h1v5h-1zM1047,357h1v5h-1zM1040,356h1v1h-1zM1046,356h1v1h-1zM1040,362h1v1h-1zM1046,362h1v1h-1z" fill="#000"/>
<path d="M1045,692h5v1h-5zM1044,693h7v5h-7zM1045,698h5v1h-5z" fill="#fff"/>
<path d="M1045,691h5v1h-5zM1045,699h5v1h-5zM1043,693h1v5h-1zM1051,693h1v5h-1zM1044,692h1v1h-1zM1050,692h1v1h-1zM1044,698h1v1h-1zM1050,698h1v1h-1z" fill="#000"/>
<path d="M72,625h5v1h-5zM71,626h7v5h-7zM72,631h5v1h-5z" fill="#fff"/>
<path d="M72,624h5v1h-5zM72,632h5v1h-5zM70,626h1v5h-1zM78,626h1v5h-1zM71,625h1v1h-1zM77,625h1v1h-1zM71,631h1v1h-1zM77,631h1v1h-1z" fill="#000"/>
<path d="M146,626h5v1h-5zM145,627h7v5h-7zM146,632h5v1h-5z" fill="#fff"/>
<path d="M146,625h5v1h-5zM146,633h5v1h-5zM144,627h1v5h-1zM152,627h1v5h-1zM145,626h1v1h-1zM151,626h1v1h-1zM145,632h1v1h-1zM151,632h1v1h-1z" fill="#000"/>
<path d="M198,625h5v1h-5zM197,626h7v5h-7zM198,631h5v1h-5z" fill="#fff"/>
<path d="M198,624h5v1h-5zM198,632h5v1h-5zM196,626h1v5h-1zM204,626h1v5h-1zM197,625h1v1h-1zM203,625h1v1h-1zM197,631h1v1h-1zM203,631h1v1h-1z" fill="#000"/>
<path d="M251,625h5v1h-5zM250,626h7v5h-7zM251,631h5v1h-5z" fill="#fff"/>
<path d="M251,624h5v1h-5zM251,632h5v1h-5zM249,626h1v5h-1zM257,626h1v5h-1zM250,625h1v1h-1zM256,625h1v1h-1zM250,631h1v1h-1zM256,631h1v1h-1z" fill="#000"/>
<path d="M126,651h5v1h-5zM125,652h7v5h-7zM126,657h5v1h-5z" fill="#fff"/>
<path d="M126,650h5v1h-5zM126,658h5v1h-5zM124,652h1v5h-1zM132,652h1v5h-1zM125,651h1v1h-1zM131,651h1v1h-1zM125,657h1v1h-1zM131,657h1v1h-1z" fill="#000"/>
<path d="M212,649h5v1h-5zM211,650h7v5h-7zM212,655h5v1h-5z" fill="#fff"/>
<path d="M212,648h5v1h-5zM212,656h5v1h-5zM210,650h1v5h-1zM218,650h1v5h-1zM211,649h1v1h-1zM217,649h1v1h-1zM211,655h1v1h-1zM217,655h1v1h-1z" fill="#000"/>
<path d="M96,824h5v1h-5zM95,825h7v5h-7zM96,830h5v1h-5z" fill="#fff"/>
<path d="M96,823h5v1h-5zM96,831h5v1h-5zM94,825h1v5h-1zM102,825h1v5h-1zM95,824h1v1h-1zM101,824h1v1h-1zM95,830h1v1h-1zM101,830h1v1h-1z" fill="#000"/>
<path d="M158,824h5v1h-5zM157,825h7v5h-7zM158,830h5v1h-5z" fill="#fff"/>
<path d="M158,823h5v1h-5zM158,831h5v1h-5zM156,825h1v5h-1zM164,825h1v5h-1zM157,824h1v1h-1zM163,824h1v1h-1zM157,830h1v1h-1zM163,830h1v1h-1z" fill="#000"/>
<path d="M216,825h5v1h-5zM215,826h7v5h-7zM216,831h5v1h-5z" fill="#fff"/>
<path d="M216,824h5v1h-5zM216,832h5v1h-5zM214,826h1v5h-1zM222,826h1v5h-1zM215,825h1v1h-1zM221,825h1v1h-1zM215,831h1v1h-1zM221,831h1v1h-1z" fill="#000"/>
<path d="M262,825h5v1h-5zM261,826h7v5h-7zM262,831h5v1h-5z" fill="#fff"/>
<path d="M262,824h5v1h-5zM262,832h5v1h-5zM260,826h1v5h-1zM268,826h1v5h-1zM261,825h1v1h-1zM267,825h1v1h-1zM261,831h1v1h-1zM267,831h1v1h-1z" fill="#000"/>
<path d="M262,857h5v1h-5zM261,858h7v5h-7zM262,863h5v1h-5z" fill="#fff"/>
<path d="M262,856h5v1h-5zM262,864h5v1h-5zM260,858h1v5h-1zM268,858h1v5h-1zM261,857h1v1h-1zM267,857h1v1h-1zM261,863h1v1h-1zM267,863h1v1h-1z" fill="#000"/>
<text x="54.5" y="65.4" font-size="14">CARBOHYDRATE&#160; DIGESTION&#160; AND&#160; ABSORPTION</text>
<text x="569.5" y="173.9" font-size="12">Tight junction</text>
<text x="567" y="820.9" font-size="12">Tight junction</text>
<text x="569.5" y="119.9" font-size="12">Tight junction</text>
<text x="209.3" y="116.4" font-size="12" font-weight="bold">Lumen</text>
<text x="245" y="141.4" font-size="12" font-weight="bold">Dietary carbohydrates</text>
<text x="206.8" y="176.1" font-size="12">Starch</text>
<text x="289" y="176.8" font-size="12">Lactose</text>
<text x="340.7" y="176.8" font-size="12">Sucrose</text>
<text x="101.4" y="207" font-size="12">Salivary secretion</text>
<text x="96.6" y="240.7" font-size="12">Pancreatic secretion</text>
<text transform="translate(137.5,291) scale(1,1.125)" font-size="12" text-anchor="middle">Amylase</text>
<text x="372.8" y="200.9" font-size="12">Brush border-</text>
<text x="372.8" y="211.7" font-size="12">membrane</text>
<text transform="translate(420.5,253) scale(1,1.125)" font-size="12" text-anchor="middle">Lactase</text>
<text x="74.5" y="331" font-size="12">(Small intestine)</text>
<text x="264.7" y="332.9" font-size="12">Galactose</text>
<text x="310.8" y="320" font-size="12">Glucose</text>
<text x="257" y="381.7" font-size="12">Maltose</text>
<text x="181" y="395.4" font-size="12">&#945;-Limit dextrin</text>
<text x="127" y="410.9" font-size="12">Maltotriose</text>
<text x="381" y="366.1" font-size="12">Na<tspan font-size="9" dy="-6">+</tspan></text>
<text x="374.9" y="407.1" font-size="12">Galactose /</text>
<text x="374.9" y="417.7" font-size="12">Glucose</text>
<text transform="translate(446.5,387) scale(1,1.125)" font-size="12" text-anchor="middle">SGLT1</text>
<text transform="translate(506.5,449) scale(1,1.125)" font-size="12" text-anchor="middle">MGAM</text>
<text transform="translate(421.5,510) scale(1,1.125)" font-size="12" text-anchor="middle">SI</text>
<text x="293" y="606.1" font-size="12">Glucose</text>
<text x="459" y="586.7" font-size="12">Fructose</text>
<text transform="translate(535.5,573) scale(1,1.125)" font-size="12" text-anchor="middle">GLUT5</text>
<text x="450.9" y="714.3" font-size="12">Glucose</text>
<text transform="translate(536.5,704) scale(1,1.125)" font-size="12" text-anchor="middle">GLUT2</text>
<text x="373" y="634" font-size="12">Ca<tspan font-size="9" dy="-7">2+</tspan></text>
<text transform="translate(430.5,641) scale(1,1.125)" font-size="12">Ca<tspan font-size="9" dy="3">V</tspan><tspan dy="-3">1.3</tspan></text>
<text x="552.7" y="634.4" font-size="12">Ca<tspan font-size="9" dy="-7">2+</tspan></text>
<text x="353.2" y="790.4" font-size="12">Artificial</text>
<text x="353.2" y="801.1" font-size="12">sweeteners</text>
<text transform="translate(446.5,765) scale(1,1.125)" font-size="12" text-anchor="middle">T1R2</text>
<text transform="translate(447,781) scale(1,1.125)" font-size="12" text-anchor="middle">T1R3</text>
<text transform="translate(551.5,774) scale(1,1.125)" font-size="12" text-anchor="middle">G</text>
<text transform="translate(643.5,774) scale(1,1.125)" font-size="12" text-anchor="middle">PLC&#946;2</text>
<text x="707" y="786.2" font-size="12">DAG</text>
<text transform="translate(718.5,725) scale(1,1.125)" font-size="12" text-anchor="middle">PKC&#946;II</text>
<text x="563.4" y="742.4" font-size="12">Taste transduction</text>
<text transform="translate(638,659) scale(1,1.125)" font-size="12" text-anchor="middle">GLUT2</text>
<text x="644.8" y="678.7" font-size="12">Cytoskeletal</text>
<text x="644.8" y="689.4" font-size="12">rearrangement</text>
<text x="658.8" y="560.4" font-size="12">Fructose</text>
<text x="743.1" y="625" font-size="12">Trans-</text>
<text x="743.1" y="635.5" font-size="12">lation</text>
<text x="821" y="640.7" font-size="12">DNA</text>
<text x="819.5" y="669.6" font-size="12">Nucleus</text>
<text transform="translate(680.5,510) scale(1,1.125)" font-size="12" text-anchor="middle">PI3K</text>
<text x="738.9" y="500" font-size="12">PIP<tspan font-size="9" dy="4">3</tspan></text>
<text transform="translate(793.5,549) scale(1,1.125)" font-size="12" text-anchor="middle">AKT</text>
<text transform="translate(720.5,422) scale(1,1.125)" font-size="12" text-anchor="middle">HK</text>
<text x="673" y="459" font-size="12">Gluc-6-P</text>
<text transform="translate(748.5,449) scale(1,1.125)" font-size="12" text-anchor="middle">G6PT1</text>
<text x="792.8" y="463.2" font-size="12">Gluc-6-P</text>
<text transform="translate(854.5,435) scale(1,1.125)" font-size="12" text-anchor="middle">G6Pase</text>
<text x="911" y="459.6" font-size="12">Gluc</text>
<text x="775" y="401.2" font-size="12">Endoplasmic reticulum</text>
<text x="868.8" y="538.5" font-size="12">Gluc</text>
<text x="1019" y="616.4" font-size="12">Glucose</text>
<text x="672.9" y="256.3" font-size="12" font-weight="bold">Small intestinal epithelial cell</text>
<text x="1052.9" y="119.9" font-size="12" font-weight="bold">Blood</text>
<text x="1042.9" y="231.8" font-size="12">Basolateral</text>
<text x="1042.9" y="242.3" font-size="12">membrane</text>
<text transform="translate(975.5,314) scale(1,1.125)" font-size="12" text-anchor="middle">ATPase</text>
<text x="908.6" y="331.4" font-size="12">K<tspan font-size="9" dy="-7">+</tspan></text>
<text x="1038.6" y="296.2" font-size="12">Na<tspan font-size="9" dy="-7">+</tspan></text>
<text transform="translate(976.5,364) scale(1,1.125)" font-size="12" text-anchor="middle">GLUT2</text>
<text x="1017" y="378.8" font-size="12">Glucose / Galactose</text>
<text transform="translate(976.5,700) scale(1,1.125)" font-size="12" text-anchor="middle">GLUT2</text>
<text x="1025.2" y="714" font-size="12">Glucose / Fructose</text>
<text x="98.8" y="621.4" font-size="12" font-weight="bold">Nonabsorbed carbohydrates</text>
<text x="59" y="646.6" font-size="12">Cellulose</text>
<text x="134.7" y="646.4" font-size="12">Starch</text>
<text x="191.3" y="645.2" font-size="12">Xylans</text>
<text x="242.3" y="644.4" font-size="12">Pectins</text>
<text x="113.4" y="669" font-size="12">Fructans</text>
<text x="202.5" y="667.6" font-size="12">gums</text>
<text x="136.7" y="729.8" font-size="12">Fermentation by</text>
<text x="136.7" y="740.5" font-size="12">colonic bacteria</text>
<text x="227.2" y="713" font-size="12">Butanoate metabolism</text>
<text x="225" y="743.3" font-size="12">Propanoate metabolism</text>
<text x="231.4" y="774.1" font-size="12">Pyruvate metabolism</text>
<text x="75" y="765.7" font-size="12">(Proximal colon)</text>
<text x="79.2" y="846.6" font-size="12">Butyrate</text>
<text x="136.7" y="844.6" font-size="12">Propionate</text>
<text x="203" y="846.4" font-size="12">Acetate</text>
<text x="259" y="846.4" font-size="12">CO<tspan font-size="9" dy="5">2</tspan></text>
<text x="261.4" y="879.7" font-size="12">H<tspan font-size="9" dy="5">2</tspan></text>
<text x="82.6" y="862.9" font-size="12" font-weight="bold">Short-chain fatty acids (SCFA)</text>
<text x="119" y="907.1" font-size="12">Absorption by</text>
<text x="119" y="917.5" font-size="12">colonic epithelial cells</text>
<text x="16.1" y="950.5" font-size="12">04973 8/23/19</text>
<text x="16.1" y="961.9" font-size="12">(c) Kanehisa Laboratories</text>
</svg>
</body></html>
